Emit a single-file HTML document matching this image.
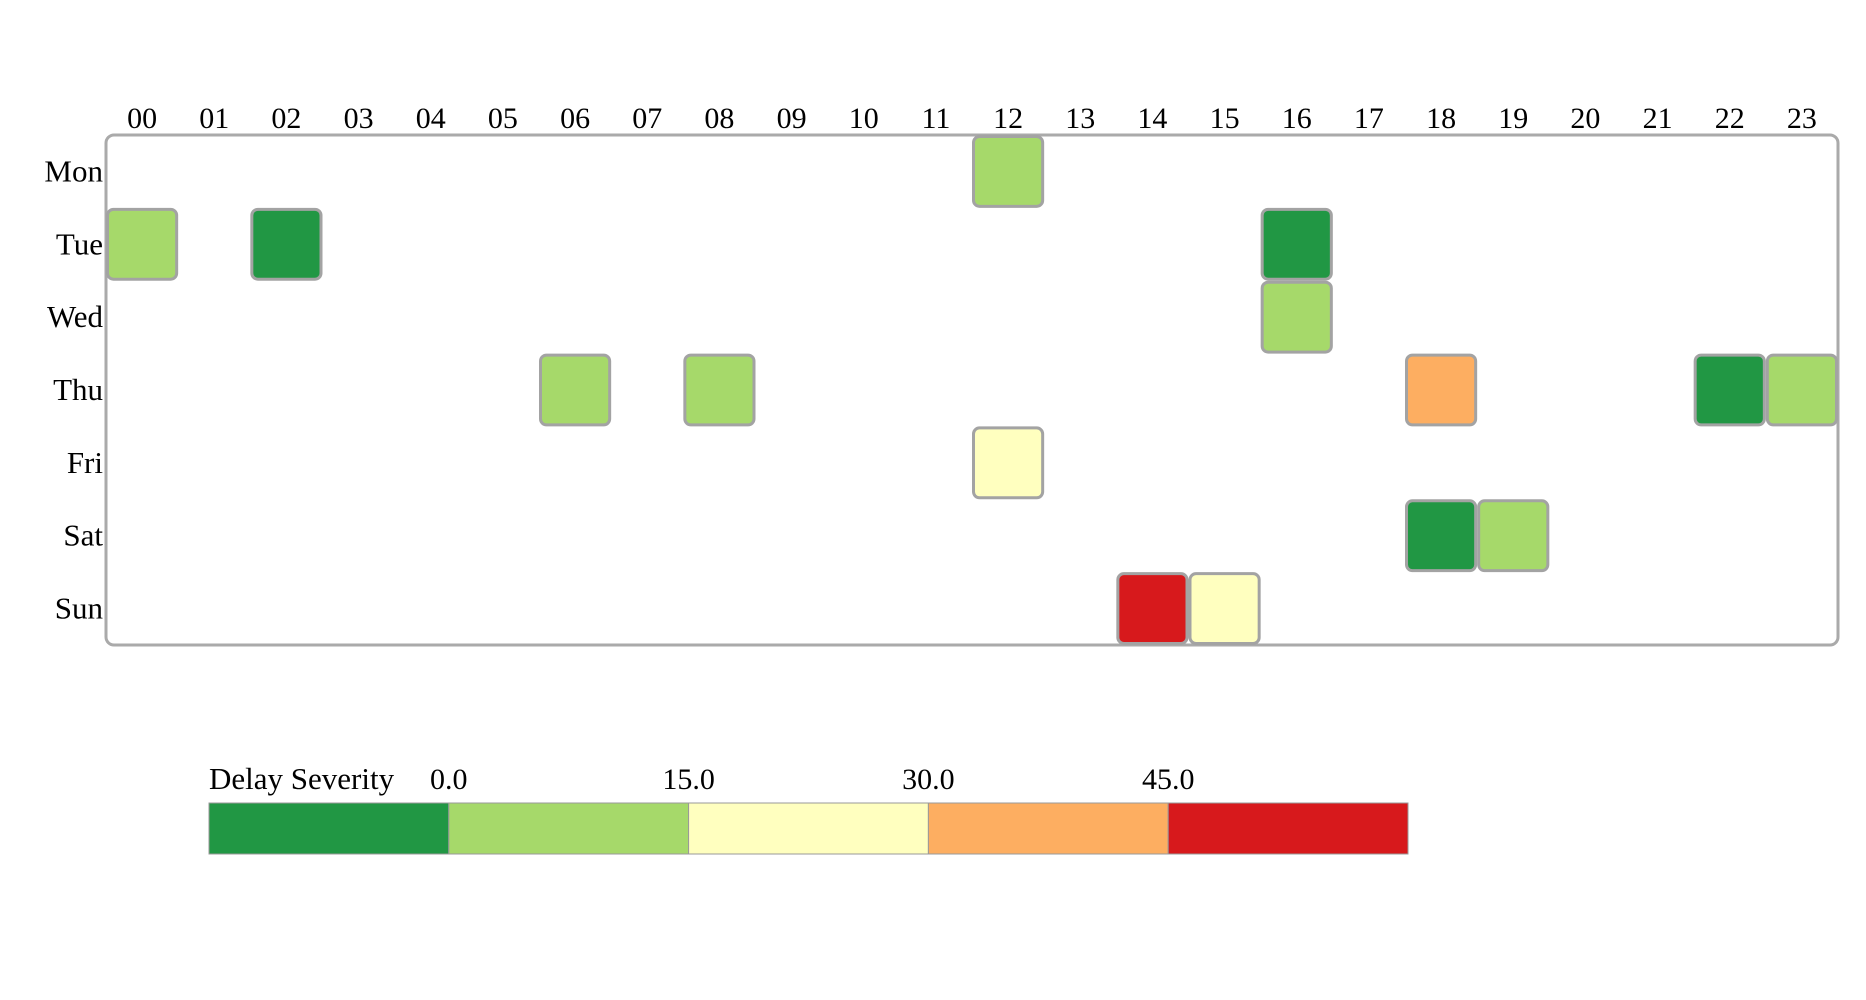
<!DOCTYPE html>
<html><head><meta charset="utf-8"><style>
html,body{margin:0;padding:0;background:#fff;}
svg{display:block;font-family:"Liberation Serif",serif;}
</style></head><body>
<svg id="chart" width="1866" height="1000" viewBox="0 0 1866 1000" xmlns="http://www.w3.org/2000/svg"></svg>
<script>
const hours = ["00","01","02","03","04","05","06","07","08","09","10","11","12","13","14","15","16","17","18","19","20","21","22","23"];
const days = ["Mon","Tue","Wed","Thu","Fri","Sat","Sun"];
const cellDay = ["Mon","Tue","Tue","Tue","Wed","Thu","Thu","Thu","Thu","Thu","Fri","Sat","Sat","Sun","Sun"];
const cellHour = ["12","00","02","16","16","06","08","18","22","23","12","18","19","14","15"];
const cellValue = [8,8,-5,-5,8,8,8,38,-5,8,22,-5,8,52,22];
const legendThresholds = [0,15,30,45];
const legendTickLabels = ["0.0","15.0","30.0","45.0"];
const palette = ["#219744","#a6d96a","#ffffbf","#fdae61","#d7191c"];

const NS = "http://www.w3.org/2000/svg";
const svg = document.getElementById("chart");
function mk(tag, attrs){const e=document.createElementNS(NS,tag);for(const k in attrs)e.setAttribute(k,attrs[k]);return e;}

const L=106, R=1838, T=135, B=645;
const cw=(R-L)/hours.length, ch=(B-T)/days.length;
const xOf=h=>L+hours.indexOf(h)*cw;
const yOf=d=>T+days.indexOf(d)*ch;
function colorOf(v){let i=0;while(i<legendThresholds.length&&v>=legendThresholds[i])i++;return palette[i];}

const frame=mk("rect",{x:L,y:T,width:R-L,height:B-T,rx:8,ry:8,fill:"none",stroke:"#aaa","stroke-width":3});


svg.appendChild(frame);

hours.forEach(h=>{
  const t=mk("text",{x:xOf(h)+cw/2,y:128,"text-anchor":"middle","font-size":30,fill:"#000"});
  t.textContent=h;
  
  
  svg.appendChild(t);
});
days.forEach(d=>{
  const t=mk("text",{x:103,y:yOf(d)+ch/2+10,"text-anchor":"end","font-size":31,fill:"#000"});
  t.textContent=d;
  
  
  svg.appendChild(t);
});
cellValue.forEach((v,i)=>{
  const r=mk("rect",{x:xOf(cellHour[i])+1.5,y:yOf(cellDay[i])+1.5,width:cw-3,height:ch-3,rx:6,ry:6,fill:colorOf(v),stroke:"#a3a3a3","stroke-width":3});
  
  
  svg.appendChild(r);
});

// legend
const LX=209, LY=803, LW=1199, LH=51, sw=LW/palette.length;
const lt=mk("text",{x:209,y:789,"font-size":31,fill:"#000"});
lt.textContent="Delay Severity";


svg.appendChild(lt);
palette.forEach((c,i)=>{
  const r=mk("rect",{x:LX+i*sw,y:LY,width:sw,height:LH,fill:c,stroke:"#999","stroke-width":1});
  
  
  svg.appendChild(r);
});
legendTickLabels.forEach((s,i)=>{
  const t=mk("text",{x:LX+(i+1)*sw,y:789,"text-anchor":"middle","font-size":30,fill:"#000"});
  t.textContent=s;
  
  
  svg.appendChild(t);
});
</script>
</body></html>
